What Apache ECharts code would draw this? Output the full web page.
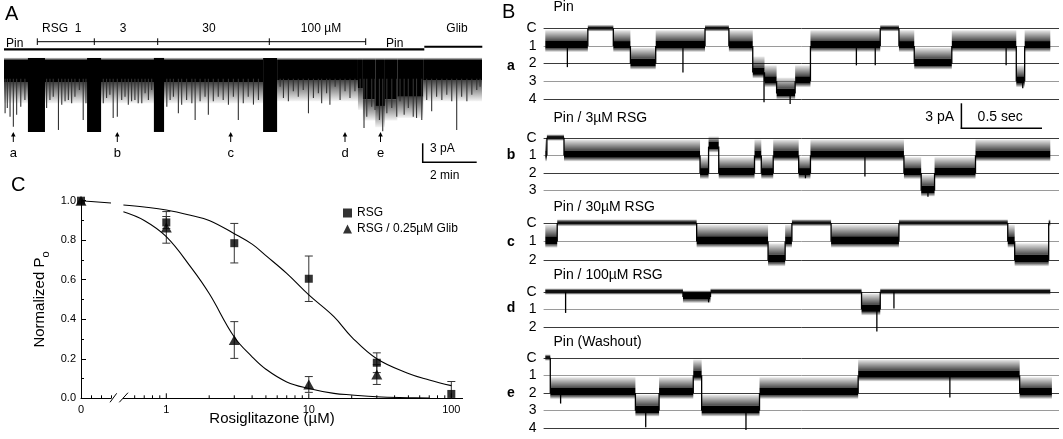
<!DOCTYPE html>
<html><head><meta charset="utf-8"><title>Rosiglitazone KATP</title>
<script src="https://cdn.jsdelivr.net/npm/echarts@6/dist/echarts.min.js"></script>
<style>html,body{margin:0;padding:0;background:#fff;}#chart{width:1063px;height:439px;}</style>
</head><body><div id="chart"></div>
<script>
const FONT = 'Arial, "Liberation Sans", Helvetica, sans-serif';

// ---------- Panel C: dose-response ----------
const concRSG = [0, 1, 3, 10, 30, 100];
const poRSG   = [1.0, 0.89, 0.785, 0.605, 0.18, 0.022];
const semRSG  = [0, 0.03, 0.10, 0.115, 0.05, 0.063];
const concGlib = [0, 1, 3, 10, 30];
const poGlib   = [1.0, 0.865, 0.295, 0.07, 0.12];
const semGlib  = [0, 0.08, 0.093, 0.04, 0.05];
const fitConc = [0.5, 0.7, 1, 1.5, 2, 3, 4, 5, 7, 10, 15, 20, 30, 50, 70, 100];
const fitRSG  = [0.978, 0.968, 0.953, 0.925, 0.9, 0.833, 0.78, 0.722, 0.632, 0.523, 0.413, 0.31, 0.2, 0.126, 0.093, 0.064];
const fitGlib = [0.944, 0.9, 0.818, 0.66, 0.53, 0.31, 0.21, 0.147, 0.083, 0.05, 0.025, 0.017, 0.008, 0.003, 0.001, null];
const fitZeroConc = [0, 0.3];
const fitZeroPo = [1.0, 0.988];
const logMajorTicks = [1, 10, 100];
const logMinorTicks = [0.6, 0.7, 0.8, 0.9, 2, 3, 4, 5, 6, 7, 8, 9, 20, 30, 40, 50, 60, 70, 80, 90];
const legendNames = ['RSG', 'RSG / 0.25µM Glib'];

// ---------- Panel A: long recording (minutes, pA) ----------
const aTraceEnd = 17.38;
const aBandTop = 0.3;
const aBands = [[0, 9.42, -3.0], [9.93, 12.87, -2.7], [12.87, 13.05, -4.0], [13.05, 13.5, -5.6], [13.5, 13.85, -6.6],
  [13.85, 14.3, -5.6], [14.3, 15.24, -5.2], [15.24, 17.38, -2.7]];
const aBlocks = [[0.87, 1.49, 0.6, -10.5], [3.02, 3.53, 0.6, -10.5], [5.45, 5.82, 0.6, -10.5], [9.42, 9.93, 0.6, -10.5]];
const aSpikes = [
  [0.04, -7.7], [0.12, -6.9], [0.22, -8.2], [0.34, -9.7], [0.46, -7.9], [0.61, -6.7], [0.76, -5.7],
  [1.55, -6.9], [1.67, -5.7], [1.79, -5.2], [1.98, -10.2], [2.10, -6.4], [2.22, -5.9], [2.34, -5.7], [2.46, -6.2], [2.58, -5.2], [2.74, -4.2], [2.88, -8.7], [2.98, -6.2],
  [3.61, -6.2], [3.73, -5.4], [3.85, -4.9], [3.97, -8.4], [4.12, -8.2], [4.28, -5.7], [4.40, -5.2], [4.52, -6.4], [4.64, -5.9], [4.76, -5.7], [4.88, -6.2], [5.01, -6.2], [5.13, -4.7], [5.25, -5.7], [5.37, -4.2],
  [5.92, -6.7], [6.04, -5.7], [6.16, -5.2], [6.34, -7.7], [6.46, -6.4], [6.64, -5.7], [6.83, -6.2], [6.95, -8.7], [7.13, -5.9], [7.31, -5.2], [7.43, -7.9], [7.61, -5.9], [7.79, -5.2], [7.97, -5.7], [8.16, -6.4], [8.34, -5.2], [8.52, -8.7], [8.70, -6.2], [8.88, -5.2], [9.07, -6.4], [9.25, -5.7],
  [10.04, -3.7], [10.16, -5.4], [10.34, -5.9], [10.52, -4.4], [10.70, -5.2], [10.88, -4.2], [11.07, -7.7], [11.25, -5.4], [11.43, -4.7], [11.55, -6.2], [11.73, -4.7], [11.85, -6.4], [12.04, -3.7], [12.22, -5.7], [12.40, -4.4], [12.58, -5.4], [12.76, -4.4], [12.95, -3.9],
  [13.09, -9.9], [13.19, -8.2], [13.37, -6.7], [13.49, -7.2], [13.65, -8.7], [13.77, -10.4], [13.92, -7.7], [14.10, -6.9], [14.28, -8.2], [14.40, -5.9], [14.55, -7.9], [14.70, -6.9], [14.88, -8.2], [15.00, -8.4], [15.19, -8.7],
  [15.37, -5.7], [15.55, -7.4], [15.73, -5.2], [15.92, -5.7], [16.10, -4.9], [16.28, -5.9], [16.46, -10.2], [16.64, -5.2], [16.83, -5.9], [17.01, -4.9], [17.19, -4.2], [17.31, -3.7]
];
const aDrugLabels = ['RSG  1', '3', '30', '100 µM'];

// ---------- Panel B: single-channel traces (seconds, open-channel level) ----------
const bTitles = ['Pin', 'Pin / 3µM RSG', 'Pin / 30µM RSG', 'Pin / 100µM RSG', 'Pin (Washout)'];
const bTags = ['a', 'b', 'c', 'd', 'e'];
const bMaxLevel = [4, 3, 2, 2, 4];
const dwellA = [[0, 0.264, 1], [0.264, 0.422, 0], [0.422, 0.528, 1], [0.528, 0.685, 2], [0.685, 0.991, 1], [0.991, 1.139, 0],
  [1.139, 1.287, 1], [1.287, 1.360, 2.5], [1.360, 1.435, 3], [1.435, 1.550, 3.7], [1.550, 1.645, 3], [1.645, 2.078, 1],
  [2.078, 2.194, 0], [2.194, 2.289, 1], [2.289, 2.522, 2], [2.522, 2.922, 1], [2.922, 2.974, 3], [2.974, 3.133, 1]];
const spikeA = [[0.137, 2.2], [0.854, 2.5], [1.357, 4.2], [1.519, 4.3], [1.930, 2.1], [2.047, 2.1], [2.859, 2.1], [2.962, 3.4]];
const dwellB = [[0, 0.010, 1], [0.010, 0.116, 0], [0.116, 0.960, 1], [0.960, 1.013, 2], [1.013, 1.076, 0.5], [1.076, 1.298, 2],
  [1.298, 1.340, 1], [1.340, 1.414, 2], [1.414, 1.572, 1], [1.572, 1.645, 2], [1.645, 2.225, 1], [2.225, 2.332, 2],
  [2.332, 2.415, 3], [2.415, 2.669, 2], [2.669, 3.133, 1]];
const spikeB = [[1.983, 2.2], [2.374, 3.35], [1.614, 2.3]];
const dwellC = [[0, 0.074, 1], [0.074, 0.939, 0], [0.939, 1.382, 1], [1.382, 1.488, 2], [1.488, 1.530, 1], [1.530, 1.773, 0],
  [1.773, 2.194, 1], [2.194, 2.869, 0], [2.869, 2.912, 1], [2.912, 3.123, 2], [3.123, 3.133, 0]];
const spikeC = [];
const dwellD = [[0, 0.854, 0], [0.854, 1.025, 0.3], [1.025, 1.962, 0], [1.962, 2.078, 1], [2.078, 3.133, 0]];
const spikeD = [[0.126, 1.2], [1.013, 0.6], [2.057, 2.25], [2.163, 0.95]];
const dwellE = [[0, 0.031, 0], [0.031, 0.559, 2], [0.559, 0.706, 3], [0.706, 0.918, 2], [0.918, 0.970, 1], [0.970, 1.329, 3],
  [1.329, 1.941, 2], [1.941, 2.943, 1], [2.943, 3.143, 2]];
const spikeE = [[0.095, 2.6], [0.623, 3.95], [1.245, 4.1], [2.510, 2.25]];
const bDwells = [dwellA, dwellB, dwellC, dwellD, dwellE];
const bSpikes = [spikeA, spikeB, spikeC, spikeD, spikeE];

// ================= build chart =================
const chart = echarts.init(document.getElementById('chart'), null, { renderer: 'canvas' });

const bGridTops = [28.4, 137.8, 223, 291.8, 357.8];
const bLevelPx = [17.6, 17.6, 18.5, 17.6, 17.6];
const grids = [
  { left: 4, top: 55.3, width: 478, height: 80 },
  { left: 81, top: 200.7, width: 30, height: 197.6 },
  { left: 123.4, top: 200.7, width: 339.2, height: 197.6 }
];
bGridTops.forEach((t, i) => grids.push({ left: 543.6, top: t, width: 515.4, height: bLevelPx[i] * bMaxLevel[i] }));
grids.forEach(g => { g.containLabel = false; g.outerBoundsMode = 'none'; });

const axisBlack = { lineStyle: { color: '#000', width: 1 } };
const xAxes = [
  { gridIndex: 0, type: 'value', min: 0, max: aTraceEnd, show: false },
  { gridIndex: 1, type: 'value', min: 0, max: 0.3, interval: 0.1, axisLine: axisBlack,
    axisTick: { inside: true, length: 3, lineStyle: { color: '#000' } },
    axisLabel: { formatter: v => (v === 0 ? '0' : ''), margin: 6, color: '#000', fontSize: 11, fontFamily: FONT },
    splitLine: { show: false } },
  { gridIndex: 2, type: 'log', logBase: 10, min: 0.5, max: 120, axisLine: axisBlack,
    axisTick: { show: false }, minorTick: { show: false }, splitLine: { show: false },
    axisLabel: { margin: 6, color: '#000', fontSize: 11, fontFamily: FONT,
      formatter: v => { const l = Math.log10(v); return Math.abs(l - Math.round(l)) < 1e-6 ? String(Math.round(v)) : ''; } } }
];
const yAxes = [
  { gridIndex: 0, type: 'value', min: -11, max: 1, show: false },
  { gridIndex: 1, type: 'value', min: 0, max: 1, interval: 0.2,
    axisLine: { show: true, lineStyle: { color: '#000', width: 1 } },
    axisTick: { show: true, inside: true, length: 5, lineStyle: { color: '#000' } },
    minorTick: { show: true, splitNumber: 2, length: 3, lineStyle: { color: '#000' } },
    axisLabel: { formatter: v => v.toFixed(1), margin: 5, color: '#000', fontSize: 11, fontFamily: FONT },
    splitLine: { show: false },
    name: '{a|Normalized P}{b|o}', nameLocation: 'middle', nameRotate: 90, nameGap: 30,
    nameTextStyle: { color: '#000', rich: {
      a: { fontSize: 15, fontFamily: FONT, color: '#000', lineHeight: 22 },
      b: { fontSize: 11, fontFamily: FONT, color: '#000', verticalAlign: 'bottom', lineHeight: 22 } } } },
  { gridIndex: 2, type: 'value', min: 0, max: 1, show: false }
];
bMaxLevel.forEach((m, i) => {
  xAxes.push({ gridIndex: 3 + i, type: 'value', min: -0.0105, max: 3.187, show: false });
  yAxes.push({ gridIndex: 3 + i, type: 'value', inverse: true, min: 0, max: m, interval: 1,
    axisLine: { show: false }, axisTick: { show: false },
    axisLabel: { formatter: v => (v === 0 ? 'C' : String(v)), color: '#000', fontSize: 14, margin: 7, fontFamily: FONT },
    splitLine: { show: true, lineStyle: { color: ['#3a3a3a', '#9a9a9a'], width: 1 } } });
});

function grad(a0, a1) {
  return { type: 'linear', x: 0, y: 0, x2: 0, y2: 1, global: false,
    colorStops: [{ offset: 0, color: 'rgba(0,0,0,' + a0 + ')' }, { offset: 1, color: 'rgba(0,0,0,' + a1 + ')' }] };
}
function rectFrom(p0, p1, fill) {
  return { type: 'rect', shape: { x: Math.min(p0[0], p1[0]), y: Math.min(p0[1], p1[1]),
    width: Math.abs(p1[0] - p0[0]), height: Math.abs(p1[1] - p0[1]) }, style: { fill: fill } };
}
function lineFrom(p0, p1, stroke, w) {
  return { type: 'line', shape: { x1: p0[0], y1: p0[1], x2: p1[0], y2: p1[1] }, style: { stroke: stroke, lineWidth: w } };
}

const series = [];
// ---- Panel A
series.push({ type: 'custom', xAxisIndex: 0, yAxisIndex: 0, data: aBands, z: 2, silent: true,
  renderItem: (p, api) => {
    const t0 = api.value(0), t1 = api.value(1), b = api.value(2);
    return { type: 'group', children: [
      rectFrom(api.coord([t0, b]), api.coord([t1, b - 3.2]), grad(0.75, 0.04)),
      rectFrom(api.coord([t0, aBandTop]), api.coord([t1, b]), '#000'),
      rectFrom(api.coord([t0, aBandTop + 0.35]), api.coord([t1, aBandTop]), grad(0.1, 0.8))
    ] };
  } });
series.push({ type: 'custom', xAxisIndex: 0, yAxisIndex: 0, data: aSpikes, z: 3, silent: true,
  renderItem: (p, api) => lineFrom(api.coord([api.value(0), -2.5]), api.coord([api.value(0), api.value(1)]), '#333', 1.1) });
series.push({ type: 'custom', xAxisIndex: 0, yAxisIndex: 0, data: aBlocks, z: 4, silent: true,
  renderItem: (p, api) => rectFrom(api.coord([api.value(0), api.value(2)]), api.coord([api.value(1), api.value(3)]), '#000') });

// ---- Panel C
const errRSG = concRSG.map((c, i) => [c, poRSG[i], semRSG[i]]).filter(d => d[0] > 0);
const errGlib = concGlib.map((c, i) => [c, poGlib[i], semGlib[i]]).filter(d => d[0] > 0);
function errRender(p, api) {
  const x = api.value(0), m = api.value(1), s = api.value(2);
  const lo = Math.max(m - s, 0);
  const top = api.coord([x, m + s]), bot = api.coord([x, lo]);
  const ch = [lineFrom(top, bot, '#333', 1), lineFrom([top[0] - 4, top[1]], [top[0] + 4, top[1]], '#333', 1)];
  if (m - s > 0) ch.push(lineFrom([bot[0] - 4, bot[1]], [bot[0] + 4, bot[1]], '#333', 1));
  return { type: 'group', children: ch };
}
series.push({ type: 'custom', xAxisIndex: 2, yAxisIndex: 2, data: errRSG, renderItem: errRender, z: 2, silent: true });
series.push({ type: 'custom', xAxisIndex: 2, yAxisIndex: 2, data: errGlib, renderItem: errRender, z: 2, silent: true });
series.push({ type: 'custom', xAxisIndex: 2, yAxisIndex: 2, silent: true, z: 2,
  data: logMajorTicks.map(v => [v, 5]).concat(logMinorTicks.map(v => [v, 3])),
  renderItem: (p, api) => { const b = api.coord([api.value(0), 0]); return lineFrom(b, [b[0], b[1] - api.value(1)], '#000', 1); } });
series.push({ type: 'line', xAxisIndex: 2, yAxisIndex: 2, smooth: 0.4, showSymbol: false, symbol: 'none', z: 3, silent: true,
  lineStyle: { color: '#000', width: 1.1 }, data: fitConc.map((c, i) => [c, fitRSG[i]]) });
series.push({ type: 'line', xAxisIndex: 2, yAxisIndex: 2, smooth: 0.4, showSymbol: false, symbol: 'none', z: 3, silent: true,
  lineStyle: { color: '#000', width: 1.1 }, data: fitConc.map((c, i) => [c, fitGlib[i]]).filter(d => d[1] !== null) });
series.push({ type: 'line', xAxisIndex: 1, yAxisIndex: 1, showSymbol: false, symbol: 'none', z: 3, silent: true,
  lineStyle: { color: '#000', width: 1.1 }, data: fitZeroConc.map((c, i) => [c, fitZeroPo[i]]) });
series.push({ name: legendNames[0], type: 'scatter', xAxisIndex: 2, yAxisIndex: 2, symbol: 'rect', symbolSize: 8, z: 5,
  itemStyle: { color: '#000' }, data: concRSG.map((c, i) => [c, poRSG[i]]).filter(d => d[0] > 0) });
series.push({ name: legendNames[1], type: 'scatter', xAxisIndex: 2, yAxisIndex: 2, symbol: 'triangle', symbolSize: [11, 10], z: 5,
  itemStyle: { color: '#000' }, data: concGlib.map((c, i) => [c, poGlib[i]]).filter(d => d[0] > 0) });
series.push({ name: legendNames[1], type: 'scatter', xAxisIndex: 1, yAxisIndex: 1, symbol: 'triangle', symbolSize: [11, 10], z: 5,
  itemStyle: { color: '#000' }, data: concGlib.map((c, i) => [c, poGlib[i]]).filter(d => d[0] === 0) });
series.push({ name: legendNames[0], type: 'scatter', xAxisIndex: 1, yAxisIndex: 1, symbol: 'rect', symbolSize: 8, z: 6,
  itemStyle: { color: '#000' }, data: concRSG.map((c, i) => [c, poRSG[i]]).filter(d => d[0] === 0) });

// ---- Panel B
function levelAt(dw, t) { for (const d of dw) { if (t >= d[0] && t <= d[1]) return d[2]; } return 0; }
bDwells.forEach((dw, i) => {
  const data = dw.map((d, k) => [d[0], d[1], d[2], k > 0 ? dw[k - 1][2] : d[2]]);
  series.push({ type: 'custom', xAxisIndex: 3 + i, yAxisIndex: 3 + i, data: data, z: 3, silent: true,
    renderItem: (p, api) => {
      const t0 = api.value(0), t1 = api.value(1), L = api.value(2), P = api.value(3);
      const ch = [];
      if (L < 0.05) {
        ch.push(rectFrom(api.coord([t0, -0.2]), api.coord([t1, -0.1]), grad(0.05, 0.7)));
        ch.push(rectFrom(api.coord([t0, -0.1]), api.coord([t1, 0.07]), '#111'));
        ch.push(rectFrom(api.coord([t0, 0.07]), api.coord([t1, 0.17]), grad(0.7, 0.05)));
      } else {
        const ft = Math.max(L - 0.9, -0.08);
        if (ft < L - 0.28) ch.push(rectFrom(api.coord([t0, ft]), api.coord([t1, L - 0.28]), grad(0.08, 0.72)));
        ch.push(rectFrom(api.coord([t0, L - 0.28]), api.coord([t1, L + 0.14]), '#000'));
        ch.push(rectFrom(api.coord([t0, L + 0.14]), api.coord([t1, L + 0.34]), grad(0.75, 0.04)));
      }
      if (P !== L) ch.push(lineFrom(api.coord([t0, P]), api.coord([t0, L]), '#000', 1.3));
      return { type: 'group', children: ch };
    } });
  const sp = bSpikes[i].map(s => [s[0], s[1], levelAt(dw, s[0])]);
  series.push({ type: 'custom', xAxisIndex: 3 + i, yAxisIndex: 3 + i, data: sp, z: 4, silent: true,
    renderItem: (p, api) => lineFrom(api.coord([api.value(0), api.value(2)]), api.coord([api.value(0), api.value(1)]), '#000', 1.3) });
});

// ---- annotations
const g = [];
function txt(text, x, y, size, opt) {
  opt = opt || {};
  g.push({ type: 'text', x: x, y: y, silent: true, style: { text: text, fill: '#000',
    font: (opt.bold ? 'bold ' : '') + size + 'px ' + FONT, align: opt.align || 'left', verticalAlign: 'middle' } });
}
function seg(x1, y1, x2, y2, w) {
  g.push({ type: 'line', silent: true, shape: { x1: x1, y1: y1, x2: x2, y2: y2 }, style: { stroke: '#000', lineWidth: w || 1 } });
}
// panel letters
txt('A', 5, 14, 20); txt('B', 502, 12, 20); txt('C', 11, 185, 20);
// panel A treatment bars
txt('Pin', 6, 43.5, 12); txt('Pin', 386, 43.5, 12);
txt(aDrugLabels[0], 42, 29, 12); txt(aDrugLabels[1], 123, 29, 12, { align: 'center' });
txt(aDrugLabels[2], 209, 29, 12, { align: 'center' }); txt(aDrugLabels[3], 321, 29, 12, { align: 'center' });
txt('Glib', 457, 29, 12, { align: 'center' });
seg(37.3, 41.7, 365.7, 41.7, 1);
[37.3, 94.3, 157.7, 269.3, 365.7].forEach(x => seg(x, 38.3, x, 45, 1));
seg(4, 49.3, 424.3, 49.3, 2.2);
seg(424.3, 46.7, 482.3, 46.7, 2);
// arrows a-e
[[13.3, 'a'], [117.3, 'b'], [230.7, 'c'], [345, 'd'], [380.5, 'e']].forEach(a => {
  seg(a[0], 142, a[0], 135, 1);
  g.push({ type: 'polygon', silent: true, shape: { points: [[a[0] - 2.3, 136.5], [a[0] + 2.3, 136.5], [a[0], 132]] }, style: { fill: '#000' } });
  txt(a[1], a[0], 153.5, 13, { align: 'center' });
});
// panel A scale bar
seg(422.7, 143.3, 422.7, 162.8, 1.5); seg(422, 162.3, 476.7, 162.3, 1.5);
txt('3 pA', 430, 148.5, 12); txt('2 min', 430, 175.5, 12);
// panel B titles, tags, scale bar
const bTitleY = [7.5, 118.3, 206.7, 275, 341.7];
const bTagY = [66, 155, 242.3, 308.3, 392.7];
bTitles.forEach((t, i) => { txt(t, 553.5, bTitleY[i], 14); txt(bTags[i], 511, bTagY[i], 14, { bold: true, align: 'center' }); });
seg(961.4, 103.3, 961.4, 128.8, 1.5); seg(960.7, 128.3, 1042, 128.3, 1.5);
txt('3 pA', 954, 116.7, 14, { align: 'right' }); txt('0.5 sec', 977.6, 116.7, 14);
// panel C axis break and x title
seg(110, 402.3, 116.7, 393.3, 1); seg(119.3, 402.3, 128, 392.7, 1);
txt('Rosiglitazone (µM)', 272, 419, 15, { align: 'center' });

chart.setOption({
  animation: false,
  backgroundColor: '#fff',
  textStyle: { fontFamily: FONT },
  grid: grids,
  xAxis: xAxes,
  yAxis: yAxes,
  legend: { data: [{ name: legendNames[0], icon: 'rect' }, { name: legendNames[1], icon: 'triangle' }],
    orient: 'vertical', left: 343, top: 207, padding: 0, itemWidth: 9, itemHeight: 9, itemGap: 4,
    selectedMode: false, textStyle: { fontSize: 12, color: '#000', fontFamily: FONT } },
  series: series,
  graphic: { elements: g }
});
</script></body></html>
